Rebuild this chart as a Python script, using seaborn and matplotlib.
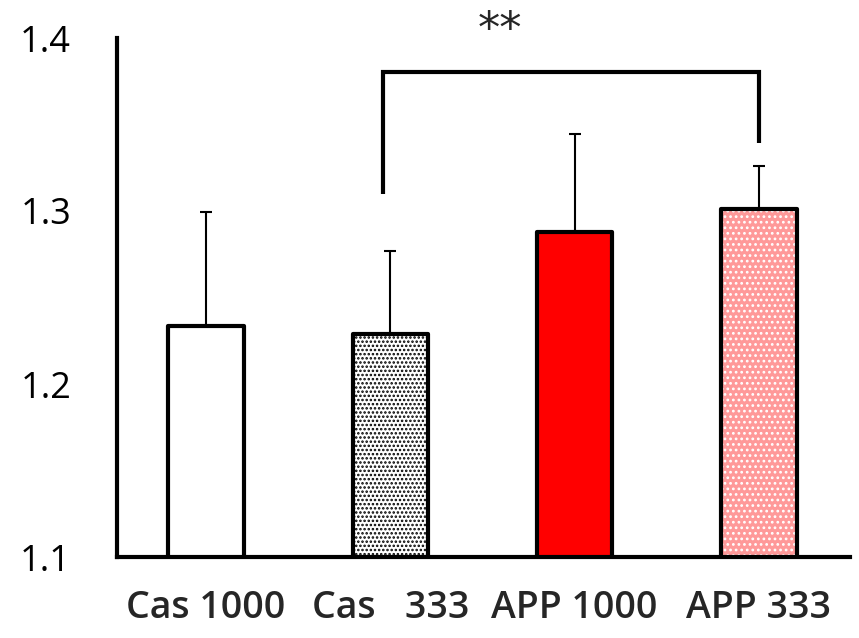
import matplotlib
matplotlib.use("Agg")
import matplotlib.pyplot as plt
import seaborn as sns
import pandas as pd
import numpy as np

categories = ["Cas 1000", "Cas   333", "APP 1000", "APP 333"]
means = [1.2335, 1.229, 1.288, 1.301]
errors = [0.066, 0.048, 0.0565, 0.025]
yticks = [1.1, 1.2, 1.3, 1.4]
# significance bracket: from group 1 to group 3
bracket_groups = [1, 3]
bracket_levels = [1.3098, 1.3803, 1.3393]  # left foot, top, right foot
sig_label = "**"

fills = ["#FFFFFF", "#FFFFFF", "#FF0000", "#FF9999"]
hatch_colors = ["#FFFFFF", "#000000", "#FF0000", "#FFFFFF"]
hatches = [None, "....", None, "..."]

df = pd.DataFrame({"group": categories, "value": means, "err": errors})

sns.set_style("white")
plt.rcParams["font.family"] = ["Open Sans", "DejaVu Sans"]
plt.rcParams["hatch.linewidth"] = 1.2

fig = plt.figure(figsize=(8.59, 6.38), dpi=100)
ax = fig.add_axes([117/859, 1-557/638, (850-117)/859, (557-38)/638])

w = 0.41
# fill + hatch layer
sns.barplot(data=df, x="group", y="value", hue="group", palette=fills,
            saturation=1, width=w, linewidth=0, legend=False, ax=ax, errorbar=None)
for p, fc, hc, h in zip(ax.patches, fills, hatch_colors, hatches):
    p.set_facecolor(fc)
    p.set_edgecolor(hc)
    p.set_linewidth(0)
    if h:
        p.set_hatch(h)
n_fill = len(ax.patches)
# outline layer
sns.barplot(data=df, x="group", y="value", color="none", fill=False,
            width=w, linewidth=3, edgecolor="black", ax=ax, errorbar=None)
for p in ax.patches[n_fill:]:
    p.set_facecolor("none")
    p.set_edgecolor("black")
    p.set_linewidth(3.0)
    p.set_joinstyle("round")

x = np.arange(len(categories))
ax.errorbar(x, means, yerr=[np.zeros(len(errors)), errors], fmt="none",
            ecolor="black", elinewidth=1.5, capsize=4.5, capthick=1.5, zorder=1)

ax.set_ylim(1.1, 1.4)
ax.set_xlim(-0.483, 3.494)
ax.set_yticks(yticks)
ax.set_yticklabels([f"{t:.1f}" for t in yticks])
ax.set_xlabel("")
ax.set_ylabel("")

for s in ["top", "right"]:
    ax.spines[s].set_visible(False)
for s in ["left", "bottom"]:
    ax.spines[s].set_linewidth(3)
    ax.spines[s].set_color("black")

ax.tick_params(axis="y", direction="in", length=9, width=3, pad=33,
               labelsize=26, colors="black")
ax.tick_params(axis="x", length=0, pad=23, labelsize=27)
for lab in ax.get_xticklabels():
    lab.set_fontweight("semibold")

# significance bracket
xl, xr = bracket_groups[0] - 0.04, bracket_groups[1]
ax.plot([xl, xl, xr, xr], bracket_levels[:1] + [bracket_levels[1]] * 2 + bracket_levels[2:],
        color="black", lw=3, clip_on=False, solid_capstyle="butt", solid_joinstyle="miter")
ax.text(1.595, 1.392, sig_label, ha="center", va="bottom", fontsize=32,
        family="DejaVu Sans", clip_on=False)

fig.savefig("out.png", dpi=100)
